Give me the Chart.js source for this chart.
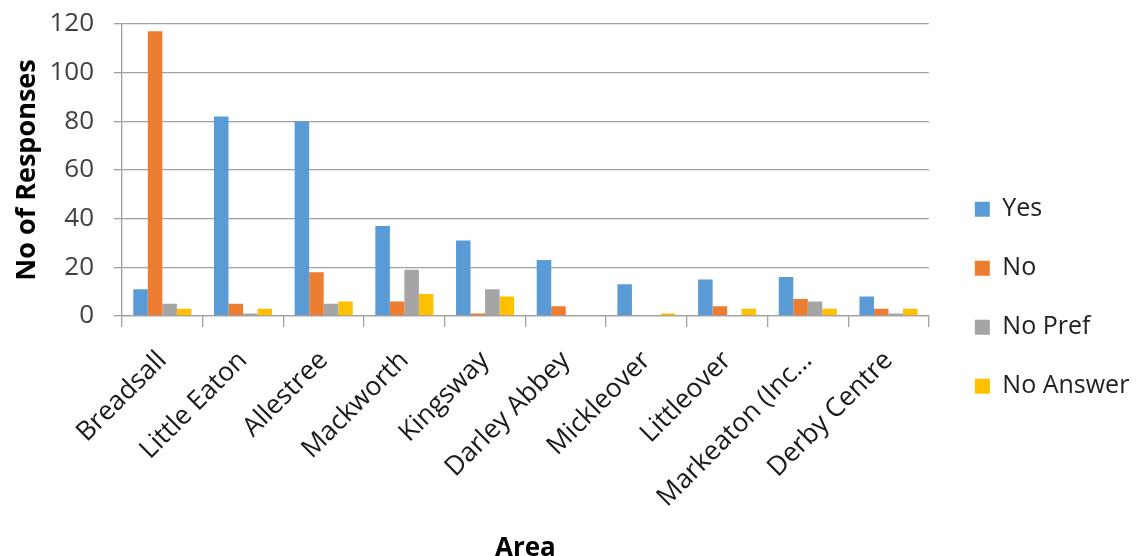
<!DOCTYPE html>
<html>
<head>
<meta charset="utf-8">
<script src="https://cdn.jsdelivr.net/npm/chart.js@4"></script>
<style>
  html, body { margin: 0; padding: 0; background: #fff; }
  #wrap { width: 1136px; height: 556px; }
</style>
</head>
<body>
<div id="wrap"><canvas id="myChart"></canvas></div>
<script>
const areas = ['Breadsall', 'Little Eaton', 'Allestree', 'Mackworth', 'Kingsway',
  'Darley Abbey', 'Mickleover', 'Littleover', 'Markeaton (Inc\u2026', 'Derby Centre'];
const yes = [11, 82, 80, 37, 31, 23, 13, 15, 16, 8];
const no = [117, 5, 18, 6, 1, 4, 0, 4, 7, 3];
const noPref = [5, 1, 5, 19, 11, 0, 0, 0, 6, 1];
const noAnswer = [3, 3, 6, 9, 8, 0, 1, 3, 3, 3];
const yTicks = [0, 20, 40, 60, 80, 100, 120];

const gridGrey = '#a0a0a0';
const font = 'Open Sans';

function graphIt() {
  const ctx = document.getElementById('myChart');
  new Chart(ctx, {
    type: 'bar',
    data: {
      labels: areas,
      datasets: [
        { label: 'Yes', data: yes, backgroundColor: '#5B9BD5' },
        { label: 'No', data: no, backgroundColor: '#ED7D31' },
        { label: 'No Pref', data: noPref, backgroundColor: '#A5A5A5' },
        { label: 'No Answer', data: noAnswer, backgroundColor: '#FFC000' }
      ]
    },
    options: {
      responsive: true,
      maintainAspectRatio: false,
      animation: false,
      layout: { padding: { right: 7 } },
      datasets: { bar: { categoryPercentage: 0.72, barPercentage: 1.0 } },
      plugins: {
        tooltip: { enabled: false },
        legend: {
          position: 'right',
          title: { display: true, text: '', padding: { top: 0, bottom: 25 } },
          labels: {
            boxWidth: 15,
            boxHeight: 15,
            padding: 34,
            color: '#222',
            font: { family: font, size: 25 }
          }
        }
      },
      scales: {
        x: {
          grid: { display: true, offset: true, drawOnChartArea: false, drawTicks: true,
                  tickLength: 11, color: gridGrey, lineWidth: 1.3 },
          border: { display: true, color: gridGrey, width: 1.3 },
          ticks: { minRotation: 45, maxRotation: 45, color: '#1a1a1a', padding: 18,
                   font: { family: font, size: 26.5 } },
          title: { display: true, text: 'Area', color: '#000',
                   font: { family: font, size: 26, weight: 'bold', lineHeight: 0.55 },
                   padding: { top: 0, bottom: 0 } },
          afterFit: s => { s.height = 240; }
        },
        y: {
          min: 0,
          max: 120,
          afterBuildTicks: s => { s.ticks = yTicks.map(v => ({ value: v })); },
          grid: { color: gridGrey, lineWidth: 1.3, tickLength: 8 },
          border: { display: true, color: gridGrey, width: 1.3 },
          ticks: { color: '#404040', padding: 20, font: { family: font, size: 26 } },
          title: { display: true, text: 'No of Responses', color: '#000',
                   font: { family: font, size: 27, weight: 'bold', lineHeight: 1.2 },
                   padding: { top: 11, bottom: 0 } },
          afterFit: s => { s.width = 122; s.paddingTop = 24; }
        },
        gap: {
          position: 'right',
          display: true,
          grid: { display: false },
          border: { display: false },
          ticks: { display: false },
          afterFit: s => { s.width = 12; s.paddingTop = 0; }
        }
      }
    }
  });
}

graphIt();
</script>
</body>
</html>
